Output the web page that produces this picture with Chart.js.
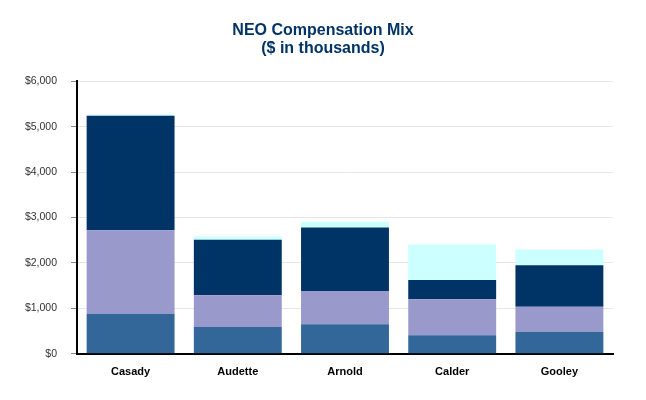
<!DOCTYPE html>
<html>
<head>
<meta charset="utf-8">
<script src="https://cdn.jsdelivr.net/npm/chart.js@4.4.1/dist/chart.umd.min.js"></script>
<style>
  html, body { margin: 0; padding: 0; background: #fff; }
  #wrap { width: 646px; height: 400px; position: relative; }
</style>
</head>
<body>
<div id="wrap"><canvas id="mixChart"></canvas></div>
<script>
// --- data ($ in thousands) ---
const executives = ['Casady', 'Audette', 'Arnold', 'Calder', 'Gooley'];
const baseSalary = [882, 589, 648, 406, 485];
const annualIncentive = [1840, 699, 735, 794, 552];
const longTermIncentive = [2515, 1220, 1397, 425, 913];
const otherComp = [28, 73, 125, 779, 346];
const yTicks = [0, 1000, 2000, 3000, 4000, 5000, 6000];

const font = "'Liberation Sans', Arial, sans-serif";

const ctx = document.getElementById('mixChart');
new Chart(ctx, {
    type: 'bar',
    data: {
        labels: executives,
        datasets: [
            { label: 'Base Salary', data: baseSalary, backgroundColor: '#336699' },
            { label: 'Annual Incentive', data: annualIncentive, backgroundColor: '#9999cc' },
            { label: 'Long-Term Incentive', data: longTermIncentive, backgroundColor: '#003366' },
            { label: 'Other', data: otherComp, backgroundColor: '#ccffff' }
        ]
    },
    options: {
        responsive: true,
        maintainAspectRatio: false,
        animation: false,
        datasets: {
            bar: { categoryPercentage: 1, barPercentage: 0.82, borderWidth: 0 }
        },
        // symmetric padding keeps the title centred on the page
        layout: { padding: { left: 23, right: 23, top: 0, bottom: 9 } },
        plugins: {
            legend: { display: false },
            tooltip: { enabled: false },
            title: {
                display: true,
                text: ['NEO Compensation Mix', '($ in thousands)'],
                color: '#003366',
                font: { family: font, size: 16, weight: 'bold', lineHeight: 1.1 },
                padding: { top: 22, bottom: 24 }
            }
        },
        scales: {
            x: {
                stacked: true,
                grid: { display: false, drawTicks: false },
                border: { display: true, color: '#000', width: 2 },
                ticks: {
                    color: '#000',
                    padding: 12,
                    font: { family: font, size: 11, weight: 'bold' }
                }
            },
            y: {
                stacked: true,
                min: 0,
                max: 6000,
                afterBuildTicks: axis => {
                    axis.ticks = yTicks.map(v => ({ value: v }));
                },
                afterFit: axis => { axis.width = 54; },
                grid: { color: '#e6e6e6', tickColor: '#888', tickLength: 6 },
                border: { display: true, color: '#000', width: 2 },
                ticks: {
                    color: '#333',
                    padding: 14,
                    font: { family: font, size: 10.5 },
                    callback: v => '$' + v.toLocaleString('en-US')
                }
            },
            // empty spacer on the right so the plot stops short of the edge
            spacer: {
                position: 'right',
                display: true,
                grid: { drawOnChartArea: false, drawTicks: false },
                border: { display: false },
                ticks: { display: false },
                afterFit: axis => { axis.width = 10; }
            }
        }
    }
});
</script>
</body>
</html>
